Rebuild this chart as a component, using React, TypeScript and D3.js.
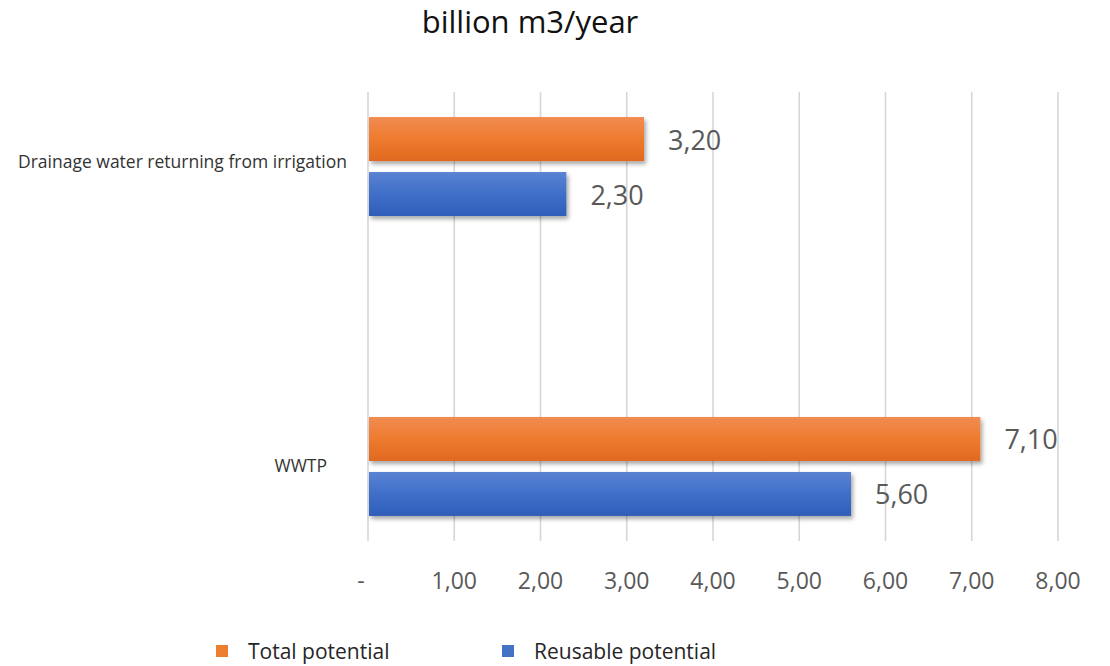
import React from "react";
import * as d3 from "d3";

const categories = ["Drainage water returning from irrigation", "WWTP"];
const seriesNames = ["Total potential", "Reusable potential"];
const totalPotential = [3.2, 7.1];
const reusablePotential = [2.3, 5.6];
const xTicks = [0, 1, 2, 3, 4, 5, 6, 7, 8];
const xTickLabels = ["-", "1,00", "2,00", "3,00", "4,00", "5,00", "6,00", "7,00", "8,00"];
const titleText = "billion m3/year";

const W = 1110;
const H = 666;
const FONT = "'Open Sans', 'DejaVu Sans', sans-serif";

export default function App() {
  const x = d3.scaleLinear().domain([0, 8]).range([368, 1058]);
  const y = d3
    .scaleBand<string>()
    .domain(categories)
    .range([92, 541])
    .paddingInner(0.67)
    .paddingOuter(0.0835);
  const ySub = d3
    .scaleBand<string>()
    .domain(seriesNames)
    .range([0, y.bandwidth()])
    .paddingInner(0.2)
    .paddingOuter(0);

  const seriesValues = [totalPotential, reusablePotential];
  const gradIds = ["gradOrange", "gradBlue"];
  const legendColors = ["#ED7D31", "#4472C4"];
  const catLabelRight = [347, 327];
  const catLabelDy = [-6, -1];
  const legendX = [216, 502];
  const fmt = (v: number) => v.toFixed(2).replace(".", ",");

  return (
    <svg
      width={W}
      height={H}
      style={{ position: "absolute", left: 0, top: 0, display: "block", background: "#fff" }}
    >
      <defs>
        <linearGradient id="gradOrange" x1="0" y1="0" x2="0" y2="1">
          <stop offset="0%" stopColor="#F18C52" />
          <stop offset="50%" stopColor="#EE7B2E" />
          <stop offset="100%" stopColor="#E0691F" />
        </linearGradient>
        <linearGradient id="gradBlue" x1="0" y1="0" x2="0" y2="1">
          <stop offset="0%" stopColor="#5A83D2" />
          <stop offset="50%" stopColor="#3F6FC8" />
          <stop offset="100%" stopColor="#2E5EB9" />
        </linearGradient>
        <filter id="shadow" x="-5%" y="-30%" width="115%" height="170%">
          <feDropShadow dx="2" dy="3" stdDeviation="2.2" floodColor="#000" floodOpacity="0.35" />
        </filter>
      </defs>

      <text
        x={530}
        y={33}
        textAnchor="middle"
        fontFamily={FONT}
        fontSize={31}
        fill="#111"
      >
        {titleText}
      </text>

      {/* gridlines */}
      {xTicks.map((t) => (
        <line
          key={"g" + t}
          x1={x(t)}
          x2={x(t)}
          y1={92}
          y2={541}
          stroke="#d6d6d6"
          strokeWidth={1.6}
        />
      ))}

      {/* bars */}
      {categories.map((c, ci) =>
        seriesNames.map((s, si) => {
          const v = seriesValues[si][ci];
          const by = (y(c) as number) + (ySub(s) as number);
          const bh = ySub.bandwidth();
          return (
            <g key={c + s}>
              <rect
                x={x(0) + 1}
                y={by}
                width={x(v) - x(0) - 1}
                height={bh}
                fill={`url(#${gradIds[si]})`}
                filter="url(#shadow)"
              />
              <text
                x={x(v) + 24}
                y={by + bh / 2}
                dominantBaseline="central"
                fontFamily={FONT}
                fontSize={27}
                fill="#595959"
              >
                {fmt(v)}
              </text>
            </g>
          );
        })
      )}

      {/* category labels */}
      {categories.map((c, ci) => (
        <text
          key={"cl" + c}
          x={catLabelRight[ci]}
          y={(y(c) as number) + y.bandwidth() / 2 + catLabelDy[ci]}
          textAnchor="end"
          dominantBaseline="central"
          fontFamily={FONT}
          fontSize={17.5}
          fill="#333"
        >
          {c}
        </text>
      ))}

      {/* x tick labels */}
      {xTicks.map((t, i) => (
        <text
          key={"t" + t}
          x={t === 0 ? x(t) - 7 : x(t)}
          y={580}
          textAnchor="middle"
          dominantBaseline="central"
          fontFamily={FONT}
          fontSize={23}
          fill="#595959"
        >
          {xTickLabels[i]}
        </text>
      ))}

      {/* legend */}
      {seriesNames.map((s, si) => (
        <g key={"lg" + s}>
          <rect x={legendX[si]} y={645} width={12} height={12} fill={legendColors[si]} />
          <text
            x={legendX[si] + 32}
            y={651}
            dominantBaseline="central"
            fontFamily={FONT}
            fontSize={21}
            fill="#262626"
          >
            {s}
          </text>
        </g>
      ))}
    </svg>
  );
}
